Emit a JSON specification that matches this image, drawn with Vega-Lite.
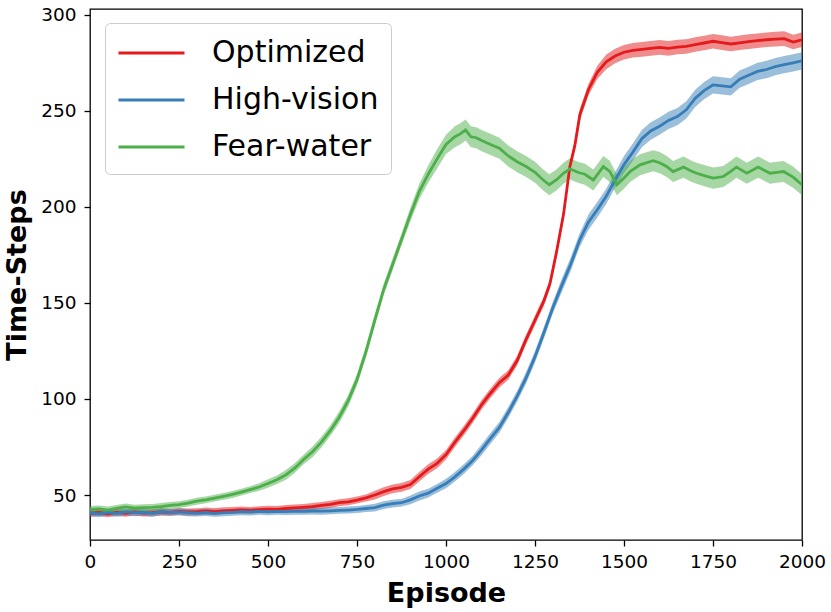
{
  "$schema": "https://vega.github.io/schema/vega-lite/v6.json",
  "width": 712,
  "height": 531,
  "autosize": "none",
  "padding": {"left": 90, "top": 9, "right": 29, "bottom": 72},
  "background": "white",
  "data": {
    "values": [
      {"s": "Optimized", "e": 0, "m": 40.5, "lo": 38.7, "hi": 42.3},
      {"s": "Optimized", "e": 25, "m": 41, "lo": 39.2, "hi": 42.8},
      {"s": "Optimized", "e": 50, "m": 40.2, "lo": 38.4, "hi": 42.0},
      {"s": "Optimized", "e": 75, "m": 41, "lo": 39.2, "hi": 42.8},
      {"s": "Optimized", "e": 100, "m": 40.5, "lo": 38.7, "hi": 42.3},
      {"s": "Optimized", "e": 125, "m": 41.2, "lo": 39.4, "hi": 43.0},
      {"s": "Optimized", "e": 150, "m": 40.6, "lo": 38.8, "hi": 42.4},
      {"s": "Optimized", "e": 175, "m": 40.8, "lo": 39.0, "hi": 42.6},
      {"s": "Optimized", "e": 200, "m": 41.2, "lo": 39.4, "hi": 43.0},
      {"s": "Optimized", "e": 225, "m": 41, "lo": 39.2, "hi": 42.8},
      {"s": "Optimized", "e": 250, "m": 41.5, "lo": 39.7, "hi": 43.3},
      {"s": "Optimized", "e": 275, "m": 41.2, "lo": 39.4, "hi": 43.0},
      {"s": "Optimized", "e": 300, "m": 41.3, "lo": 39.5, "hi": 43.1},
      {"s": "Optimized", "e": 325, "m": 41.7, "lo": 39.9, "hi": 43.5},
      {"s": "Optimized", "e": 350, "m": 41.4, "lo": 39.6, "hi": 43.2},
      {"s": "Optimized", "e": 375, "m": 41.8, "lo": 40.0, "hi": 43.6},
      {"s": "Optimized", "e": 400, "m": 42, "lo": 40.2, "hi": 43.8},
      {"s": "Optimized", "e": 425, "m": 42.3, "lo": 40.5, "hi": 44.1},
      {"s": "Optimized", "e": 450, "m": 42, "lo": 40.2, "hi": 43.8},
      {"s": "Optimized", "e": 475, "m": 42.4, "lo": 40.6, "hi": 44.2},
      {"s": "Optimized", "e": 500, "m": 42.6, "lo": 40.8, "hi": 44.4},
      {"s": "Optimized", "e": 525, "m": 42.5, "lo": 40.7, "hi": 44.3},
      {"s": "Optimized", "e": 550, "m": 43, "lo": 41.2, "hi": 44.8},
      {"s": "Optimized", "e": 575, "m": 43.3, "lo": 41.5, "hi": 45.1},
      {"s": "Optimized", "e": 600, "m": 43.6, "lo": 41.8, "hi": 45.4},
      {"s": "Optimized", "e": 625, "m": 44, "lo": 42.2, "hi": 45.8},
      {"s": "Optimized", "e": 650, "m": 44.6, "lo": 42.8, "hi": 46.4},
      {"s": "Optimized", "e": 675, "m": 45.2, "lo": 43.4, "hi": 47.0},
      {"s": "Optimized", "e": 700, "m": 46, "lo": 44.2, "hi": 47.8},
      {"s": "Optimized", "e": 725, "m": 46.5, "lo": 44.7, "hi": 48.3},
      {"s": "Optimized", "e": 750, "m": 47.4, "lo": 45.6, "hi": 49.2},
      {"s": "Optimized", "e": 775, "m": 48.5, "lo": 46.7, "hi": 50.3},
      {"s": "Optimized", "e": 800, "m": 50, "lo": 47.7, "hi": 52.3},
      {"s": "Optimized", "e": 825, "m": 51.8, "lo": 49.5, "hi": 54.1},
      {"s": "Optimized", "e": 850, "m": 53.2, "lo": 50.9, "hi": 55.5},
      {"s": "Optimized", "e": 875, "m": 54, "lo": 51.7, "hi": 56.3},
      {"s": "Optimized", "e": 900, "m": 55.5, "lo": 53.2, "hi": 57.8},
      {"s": "Optimized", "e": 925, "m": 59.5, "lo": 57, "hi": 62},
      {"s": "Optimized", "e": 950, "m": 63.5, "lo": 61, "hi": 66},
      {"s": "Optimized", "e": 975, "m": 66.5, "lo": 64, "hi": 69},
      {"s": "Optimized", "e": 1000, "m": 71, "lo": 68.5, "hi": 73.5},
      {"s": "Optimized", "e": 1025, "m": 77.5, "lo": 75, "hi": 80},
      {"s": "Optimized", "e": 1050, "m": 83.5, "lo": 81, "hi": 86},
      {"s": "Optimized", "e": 1075, "m": 90, "lo": 87.5, "hi": 92.5},
      {"s": "Optimized", "e": 1100, "m": 97, "lo": 94.5, "hi": 99.5},
      {"s": "Optimized", "e": 1125, "m": 103, "lo": 100.5, "hi": 105.5},
      {"s": "Optimized", "e": 1150, "m": 108.5, "lo": 106, "hi": 111},
      {"s": "Optimized", "e": 1175, "m": 112.5, "lo": 110, "hi": 115},
      {"s": "Optimized", "e": 1200, "m": 120, "lo": 117.5, "hi": 122.5},
      {"s": "Optimized", "e": 1225, "m": 131, "lo": 128.5, "hi": 133.5},
      {"s": "Optimized", "e": 1250, "m": 141, "lo": 138.5, "hi": 143.5},
      {"s": "Optimized", "e": 1275, "m": 151, "lo": 148.5, "hi": 153.5},
      {"s": "Optimized", "e": 1292, "m": 160, "lo": 157.5, "hi": 162.5},
      {"s": "Optimized", "e": 1311, "m": 177, "lo": 174.5, "hi": 179.5},
      {"s": "Optimized", "e": 1330, "m": 196, "lo": 193.5, "hi": 198.5},
      {"s": "Optimized", "e": 1348, "m": 221, "lo": 218.5, "hi": 223.5},
      {"s": "Optimized", "e": 1362, "m": 232, "lo": 229.5, "hi": 234.5},
      {"s": "Optimized", "e": 1376, "m": 248, "lo": 245, "hi": 251},
      {"s": "Optimized", "e": 1400, "m": 261, "lo": 258, "hi": 264},
      {"s": "Optimized", "e": 1425, "m": 270, "lo": 266.5, "hi": 273.5},
      {"s": "Optimized", "e": 1450, "m": 275.5, "lo": 271.7, "hi": 279.3},
      {"s": "Optimized", "e": 1475, "m": 278.5, "lo": 274.7, "hi": 282.3},
      {"s": "Optimized", "e": 1500, "m": 280.5, "lo": 276.7, "hi": 284.3},
      {"s": "Optimized", "e": 1525, "m": 281.5, "lo": 277.7, "hi": 285.3},
      {"s": "Optimized", "e": 1550, "m": 282, "lo": 278.2, "hi": 285.8},
      {"s": "Optimized", "e": 1575, "m": 282.5, "lo": 278.7, "hi": 286.3},
      {"s": "Optimized", "e": 1600, "m": 283, "lo": 279.2, "hi": 286.8},
      {"s": "Optimized", "e": 1625, "m": 282.5, "lo": 278.7, "hi": 286.3},
      {"s": "Optimized", "e": 1650, "m": 283.2, "lo": 279.4, "hi": 287.0},
      {"s": "Optimized", "e": 1675, "m": 283.5, "lo": 279.7, "hi": 287.3},
      {"s": "Optimized", "e": 1700, "m": 284.5, "lo": 280.7, "hi": 288.3},
      {"s": "Optimized", "e": 1725, "m": 285.3, "lo": 281.5, "hi": 289.1},
      {"s": "Optimized", "e": 1750, "m": 286.2, "lo": 282.4, "hi": 290.0},
      {"s": "Optimized", "e": 1775, "m": 285.5, "lo": 281.7, "hi": 289.3},
      {"s": "Optimized", "e": 1800, "m": 284.8, "lo": 281.0, "hi": 288.6},
      {"s": "Optimized", "e": 1825, "m": 285.4, "lo": 281.6, "hi": 289.2},
      {"s": "Optimized", "e": 1850, "m": 286, "lo": 282.2, "hi": 289.8},
      {"s": "Optimized", "e": 1875, "m": 286.5, "lo": 282.7, "hi": 290.3},
      {"s": "Optimized", "e": 1900, "m": 287, "lo": 283.2, "hi": 290.8},
      {"s": "Optimized", "e": 1925, "m": 287.3, "lo": 283.5, "hi": 291.1},
      {"s": "Optimized", "e": 1950, "m": 287.6, "lo": 283.8, "hi": 291.4},
      {"s": "Optimized", "e": 1975, "m": 285.8, "lo": 282.0, "hi": 289.6},
      {"s": "Optimized", "e": 2000, "m": 287, "lo": 283.2, "hi": 290.8},

      {"s": "High-vision", "e": 0, "m": 40.8, "lo": 39.0, "hi": 42.6},
      {"s": "High-vision", "e": 25, "m": 40.2, "lo": 38.4, "hi": 42.0},
      {"s": "High-vision", "e": 50, "m": 41, "lo": 39.2, "hi": 42.8},
      {"s": "High-vision", "e": 75, "m": 40.5, "lo": 38.7, "hi": 42.3},
      {"s": "High-vision", "e": 100, "m": 41.2, "lo": 39.4, "hi": 43.0},
      {"s": "High-vision", "e": 125, "m": 40.8, "lo": 39.0, "hi": 42.6},
      {"s": "High-vision", "e": 150, "m": 41, "lo": 39.2, "hi": 42.8},
      {"s": "High-vision", "e": 175, "m": 40.5, "lo": 38.7, "hi": 42.3},
      {"s": "High-vision", "e": 200, "m": 41.3, "lo": 39.5, "hi": 43.1},
      {"s": "High-vision", "e": 225, "m": 41, "lo": 39.2, "hi": 42.8},
      {"s": "High-vision", "e": 250, "m": 41.2, "lo": 39.4, "hi": 43.0},
      {"s": "High-vision", "e": 275, "m": 40.8, "lo": 39.0, "hi": 42.6},
      {"s": "High-vision", "e": 300, "m": 40.6, "lo": 38.8, "hi": 42.4},
      {"s": "High-vision", "e": 325, "m": 40.9, "lo": 39.1, "hi": 42.7},
      {"s": "High-vision", "e": 350, "m": 40.5, "lo": 38.7, "hi": 42.3},
      {"s": "High-vision", "e": 375, "m": 40.8, "lo": 39.0, "hi": 42.6},
      {"s": "High-vision", "e": 400, "m": 41, "lo": 39.2, "hi": 42.8},
      {"s": "High-vision", "e": 425, "m": 41.3, "lo": 39.5, "hi": 43.1},
      {"s": "High-vision", "e": 450, "m": 41.2, "lo": 39.4, "hi": 43.0},
      {"s": "High-vision", "e": 475, "m": 41.5, "lo": 39.7, "hi": 43.3},
      {"s": "High-vision", "e": 500, "m": 41.3, "lo": 39.5, "hi": 43.1},
      {"s": "High-vision", "e": 525, "m": 41.5, "lo": 39.7, "hi": 43.3},
      {"s": "High-vision", "e": 550, "m": 41.4, "lo": 39.6, "hi": 43.2},
      {"s": "High-vision", "e": 575, "m": 41.6, "lo": 39.8, "hi": 43.4},
      {"s": "High-vision", "e": 600, "m": 41.5, "lo": 39.7, "hi": 43.3},
      {"s": "High-vision", "e": 625, "m": 41.7, "lo": 39.9, "hi": 43.5},
      {"s": "High-vision", "e": 650, "m": 41.6, "lo": 39.8, "hi": 43.4},
      {"s": "High-vision", "e": 675, "m": 41.8, "lo": 40.0, "hi": 43.6},
      {"s": "High-vision", "e": 700, "m": 42, "lo": 40.2, "hi": 43.8},
      {"s": "High-vision", "e": 725, "m": 42.2, "lo": 40.4, "hi": 44.0},
      {"s": "High-vision", "e": 750, "m": 42.5, "lo": 40.7, "hi": 44.3},
      {"s": "High-vision", "e": 775, "m": 43, "lo": 41.2, "hi": 44.8},
      {"s": "High-vision", "e": 800, "m": 43.5, "lo": 41.5, "hi": 45.5},
      {"s": "High-vision", "e": 825, "m": 44.8, "lo": 42.8, "hi": 46.8},
      {"s": "High-vision", "e": 850, "m": 45.5, "lo": 43.5, "hi": 47.5},
      {"s": "High-vision", "e": 875, "m": 46, "lo": 44, "hi": 48},
      {"s": "High-vision", "e": 900, "m": 47.5, "lo": 45.2, "hi": 49.8},
      {"s": "High-vision", "e": 925, "m": 49.5, "lo": 47.2, "hi": 51.8},
      {"s": "High-vision", "e": 950, "m": 51, "lo": 48.7, "hi": 53.3},
      {"s": "High-vision", "e": 975, "m": 53.5, "lo": 51.2, "hi": 55.8},
      {"s": "High-vision", "e": 1000, "m": 56, "lo": 53.5, "hi": 58.5},
      {"s": "High-vision", "e": 1025, "m": 59.5, "lo": 57, "hi": 62},
      {"s": "High-vision", "e": 1050, "m": 63.5, "lo": 61, "hi": 66},
      {"s": "High-vision", "e": 1075, "m": 68, "lo": 65.5, "hi": 70.5},
      {"s": "High-vision", "e": 1100, "m": 73.5, "lo": 70.7, "hi": 76.3},
      {"s": "High-vision", "e": 1125, "m": 79.5, "lo": 76.7, "hi": 82.3},
      {"s": "High-vision", "e": 1150, "m": 85.2, "lo": 82.4, "hi": 88.0},
      {"s": "High-vision", "e": 1175, "m": 93, "lo": 90.2, "hi": 95.8},
      {"s": "High-vision", "e": 1200, "m": 101.5, "lo": 98.7, "hi": 104.3},
      {"s": "High-vision", "e": 1225, "m": 111, "lo": 108, "hi": 114},
      {"s": "High-vision", "e": 1250, "m": 122, "lo": 119, "hi": 125},
      {"s": "High-vision", "e": 1275, "m": 134.5, "lo": 131.5, "hi": 137.5},
      {"s": "High-vision", "e": 1300, "m": 147.5, "lo": 144.5, "hi": 150.5},
      {"s": "High-vision", "e": 1325, "m": 159, "lo": 155.5, "hi": 162.5},
      {"s": "High-vision", "e": 1350, "m": 170, "lo": 166.5, "hi": 173.5},
      {"s": "High-vision", "e": 1375, "m": 182.5, "lo": 179, "hi": 186},
      {"s": "High-vision", "e": 1400, "m": 192, "lo": 188, "hi": 196},
      {"s": "High-vision", "e": 1425, "m": 198.5, "lo": 194.5, "hi": 202.5},
      {"s": "High-vision", "e": 1450, "m": 205.5, "lo": 201.5, "hi": 209.5},
      {"s": "High-vision", "e": 1475, "m": 214, "lo": 210, "hi": 218},
      {"s": "High-vision", "e": 1500, "m": 222, "lo": 217.5, "hi": 226.5},
      {"s": "High-vision", "e": 1525, "m": 228.5, "lo": 224, "hi": 233},
      {"s": "High-vision", "e": 1550, "m": 235.5, "lo": 231, "hi": 240},
      {"s": "High-vision", "e": 1575, "m": 239.5, "lo": 235, "hi": 244},
      {"s": "High-vision", "e": 1600, "m": 242, "lo": 237.5, "hi": 246.5},
      {"s": "High-vision", "e": 1625, "m": 245, "lo": 240.5, "hi": 249.5},
      {"s": "High-vision", "e": 1650, "m": 247, "lo": 242.5, "hi": 251.5},
      {"s": "High-vision", "e": 1675, "m": 250.5, "lo": 246, "hi": 255},
      {"s": "High-vision", "e": 1700, "m": 256.5, "lo": 252, "hi": 261},
      {"s": "High-vision", "e": 1725, "m": 260.5, "lo": 256, "hi": 265},
      {"s": "High-vision", "e": 1750, "m": 263.5, "lo": 259, "hi": 268},
      {"s": "High-vision", "e": 1775, "m": 263, "lo": 258.5, "hi": 267.5},
      {"s": "High-vision", "e": 1800, "m": 262.5, "lo": 258, "hi": 267},
      {"s": "High-vision", "e": 1825, "m": 266.5, "lo": 262, "hi": 271},
      {"s": "High-vision", "e": 1850, "m": 268.5, "lo": 264, "hi": 273},
      {"s": "High-vision", "e": 1875, "m": 270.5, "lo": 266, "hi": 275},
      {"s": "High-vision", "e": 1900, "m": 271.5, "lo": 267, "hi": 276},
      {"s": "High-vision", "e": 1925, "m": 273, "lo": 268.5, "hi": 277.5},
      {"s": "High-vision", "e": 1950, "m": 274, "lo": 269.5, "hi": 278.5},
      {"s": "High-vision", "e": 1975, "m": 275, "lo": 270.5, "hi": 279.5},
      {"s": "High-vision", "e": 2000, "m": 276, "lo": 271.5, "hi": 280.5},

      {"s": "Fear-water", "e": 0, "m": 42.5, "lo": 40.7, "hi": 44.3},
      {"s": "Fear-water", "e": 25, "m": 42.8, "lo": 41.0, "hi": 44.6},
      {"s": "Fear-water", "e": 50, "m": 42.2, "lo": 40.4, "hi": 44.0},
      {"s": "Fear-water", "e": 75, "m": 43, "lo": 41.2, "hi": 44.8},
      {"s": "Fear-water", "e": 100, "m": 43.8, "lo": 42.0, "hi": 45.6},
      {"s": "Fear-water", "e": 125, "m": 43.2, "lo": 41.4, "hi": 45.0},
      {"s": "Fear-water", "e": 150, "m": 43.4, "lo": 41.6, "hi": 45.2},
      {"s": "Fear-water", "e": 175, "m": 43.6, "lo": 41.8, "hi": 45.4},
      {"s": "Fear-water", "e": 200, "m": 44, "lo": 42.2, "hi": 45.8},
      {"s": "Fear-water", "e": 225, "m": 44.6, "lo": 42.8, "hi": 46.4},
      {"s": "Fear-water", "e": 250, "m": 45, "lo": 43.2, "hi": 46.8},
      {"s": "Fear-water", "e": 275, "m": 45.8, "lo": 44.0, "hi": 47.6},
      {"s": "Fear-water", "e": 300, "m": 46.8, "lo": 45.0, "hi": 48.6},
      {"s": "Fear-water", "e": 325, "m": 47.5, "lo": 45.7, "hi": 49.3},
      {"s": "Fear-water", "e": 350, "m": 48.4, "lo": 46.6, "hi": 50.2},
      {"s": "Fear-water", "e": 375, "m": 49.3, "lo": 47.5, "hi": 51.1},
      {"s": "Fear-water", "e": 400, "m": 50.3, "lo": 48.5, "hi": 52.1},
      {"s": "Fear-water", "e": 425, "m": 51.5, "lo": 49.7, "hi": 53.3},
      {"s": "Fear-water", "e": 450, "m": 52.8, "lo": 51.0, "hi": 54.6},
      {"s": "Fear-water", "e": 475, "m": 54.2, "lo": 52.2, "hi": 56.2},
      {"s": "Fear-water", "e": 500, "m": 56, "lo": 53.8, "hi": 58.2},
      {"s": "Fear-water", "e": 525, "m": 58, "lo": 55.8, "hi": 60.2},
      {"s": "Fear-water", "e": 550, "m": 60.5, "lo": 58, "hi": 63},
      {"s": "Fear-water", "e": 575, "m": 64, "lo": 61.5, "hi": 66.5},
      {"s": "Fear-water", "e": 600, "m": 68.5, "lo": 66, "hi": 71},
      {"s": "Fear-water", "e": 625, "m": 72.5, "lo": 69.7, "hi": 75.3},
      {"s": "Fear-water", "e": 650, "m": 77.5, "lo": 74.7, "hi": 80.3},
      {"s": "Fear-water", "e": 675, "m": 83.5, "lo": 80.7, "hi": 86.3},
      {"s": "Fear-water", "e": 700, "m": 90.5, "lo": 87.5, "hi": 93.5},
      {"s": "Fear-water", "e": 725, "m": 99, "lo": 96, "hi": 102},
      {"s": "Fear-water", "e": 750, "m": 110, "lo": 107, "hi": 113},
      {"s": "Fear-water", "e": 775, "m": 124.5, "lo": 121.5, "hi": 127.5},
      {"s": "Fear-water", "e": 800, "m": 141, "lo": 138, "hi": 144},
      {"s": "Fear-water", "e": 825, "m": 157, "lo": 154, "hi": 160},
      {"s": "Fear-water", "e": 850, "m": 170, "lo": 167, "hi": 173},
      {"s": "Fear-water", "e": 875, "m": 183, "lo": 180, "hi": 186},
      {"s": "Fear-water", "e": 900, "m": 196, "lo": 192.5, "hi": 199.5},
      {"s": "Fear-water", "e": 925, "m": 208, "lo": 204, "hi": 212},
      {"s": "Fear-water", "e": 950, "m": 217, "lo": 212.5, "hi": 221.5},
      {"s": "Fear-water", "e": 975, "m": 225, "lo": 220, "hi": 230},
      {"s": "Fear-water", "e": 1000, "m": 232.5, "lo": 227.5, "hi": 237.5},
      {"s": "Fear-water", "e": 1025, "m": 236.5, "lo": 231, "hi": 242},
      {"s": "Fear-water", "e": 1040, "m": 238, "lo": 232.5, "hi": 243.5},
      {"s": "Fear-water", "e": 1055, "m": 240, "lo": 234.5, "hi": 245.5},
      {"s": "Fear-water", "e": 1070, "m": 236.5, "lo": 231, "hi": 242},
      {"s": "Fear-water", "e": 1085, "m": 236, "lo": 230.5, "hi": 241.5},
      {"s": "Fear-water", "e": 1100, "m": 234.5, "lo": 229, "hi": 240},
      {"s": "Fear-water", "e": 1125, "m": 232.5, "lo": 227, "hi": 238},
      {"s": "Fear-water", "e": 1150, "m": 230.5, "lo": 225, "hi": 236},
      {"s": "Fear-water", "e": 1175, "m": 226.5, "lo": 221, "hi": 232},
      {"s": "Fear-water", "e": 1200, "m": 223.5, "lo": 218, "hi": 229},
      {"s": "Fear-water", "e": 1225, "m": 221, "lo": 215.5, "hi": 226.5},
      {"s": "Fear-water", "e": 1250, "m": 218, "lo": 212.5, "hi": 223.5},
      {"s": "Fear-water", "e": 1270, "m": 214.5, "lo": 209, "hi": 220},
      {"s": "Fear-water", "e": 1290, "m": 211.5, "lo": 206, "hi": 217},
      {"s": "Fear-water", "e": 1310, "m": 214, "lo": 208.5, "hi": 219.5},
      {"s": "Fear-water", "e": 1330, "m": 217.5, "lo": 212, "hi": 223},
      {"s": "Fear-water", "e": 1348, "m": 219.8, "lo": 214.3, "hi": 225.3},
      {"s": "Fear-water", "e": 1370, "m": 218, "lo": 212.5, "hi": 223.5},
      {"s": "Fear-water", "e": 1390, "m": 217, "lo": 211.5, "hi": 222.5},
      {"s": "Fear-water", "e": 1414, "m": 214, "lo": 208.5, "hi": 219.5},
      {"s": "Fear-water", "e": 1442, "m": 221, "lo": 215.5, "hi": 226.5},
      {"s": "Fear-water", "e": 1460, "m": 218.5, "lo": 213, "hi": 224},
      {"s": "Fear-water", "e": 1480, "m": 211.5, "lo": 206, "hi": 217},
      {"s": "Fear-water", "e": 1500, "m": 215, "lo": 209.5, "hi": 220.5},
      {"s": "Fear-water", "e": 1517, "m": 218.4, "lo": 212.9, "hi": 223.9},
      {"s": "Fear-water", "e": 1545, "m": 221.9, "lo": 216.4, "hi": 227.4},
      {"s": "Fear-water", "e": 1582, "m": 224, "lo": 218.5, "hi": 229.5},
      {"s": "Fear-water", "e": 1600, "m": 223, "lo": 217.5, "hi": 228.5},
      {"s": "Fear-water", "e": 1620, "m": 221, "lo": 215.5, "hi": 226.5},
      {"s": "Fear-water", "e": 1638, "m": 218.4, "lo": 212.9, "hi": 223.9},
      {"s": "Fear-water", "e": 1667, "m": 220.7, "lo": 215.2, "hi": 226.2},
      {"s": "Fear-water", "e": 1690, "m": 218.5, "lo": 213, "hi": 224},
      {"s": "Fear-water", "e": 1704, "m": 217.5, "lo": 212, "hi": 223},
      {"s": "Fear-water", "e": 1730, "m": 216, "lo": 210.5, "hi": 221.5},
      {"s": "Fear-water", "e": 1751, "m": 215, "lo": 209.5, "hi": 220.5},
      {"s": "Fear-water", "e": 1779, "m": 215.8, "lo": 210.3, "hi": 221.3},
      {"s": "Fear-water", "e": 1800, "m": 218.5, "lo": 213, "hi": 224},
      {"s": "Fear-water", "e": 1816, "m": 220.7, "lo": 215.2, "hi": 226.2},
      {"s": "Fear-water", "e": 1845, "m": 217.5, "lo": 212, "hi": 223},
      {"s": "Fear-water", "e": 1877, "m": 220.7, "lo": 215.2, "hi": 226.2},
      {"s": "Fear-water", "e": 1910, "m": 217.5, "lo": 212, "hi": 223},
      {"s": "Fear-water", "e": 1930, "m": 218, "lo": 212.5, "hi": 223.5},
      {"s": "Fear-water", "e": 1948, "m": 218.4, "lo": 212.9, "hi": 223.9},
      {"s": "Fear-water", "e": 1975, "m": 215.5, "lo": 210, "hi": 221},
      {"s": "Fear-water", "e": 2000, "m": 211.5, "lo": 206, "hi": 217}
    ]
  },
  "encoding": {
    "x": {
      "field": "e",
      "type": "quantitative",
      "title": "Episode",
      "scale": {"domain": [0, 2000], "nice": false},
      "axis": {
        "values": [0, 250, 500, 750, 1000, 1250, 1500, 1750, 2000],
        "format": "d",
        "labelFlush": false,
        "labelPadding": 6,
        "titlePadding": 10
      }
    },
    "color": {
      "field": "s",
      "type": "nominal",
      "scale": {
        "domain": ["Optimized", "High-vision", "Fear-water"],
        "range": ["#e41a1c", "#377eb8", "#4daf4a"]
      },
      "legend": {"title": null}
    }
  },
  "layer": [
    {
      "mark": {"type": "area", "opacity": 0.5, "clip": true},
      "encoding": {
        "y": {
          "field": "lo",
          "type": "quantitative",
          "title": "Time-Steps",
          "scale": {"domain": [26.6, 303], "nice": false, "zero": false},
          "axis": {"values": [50, 100, 150, 200, 250, 300], "labelPadding": 8, "titlePadding": 9}
        },
        "y2": {"field": "hi"}
      }
    },
    {
      "mark": {"type": "line", "strokeWidth": 2.8, "clip": true},
      "encoding": {
        "y": {"field": "m", "type": "quantitative"}
      }
    }
  ],
  "config": {
    "font": "DejaVu Sans",
    "view": {"stroke": "black", "strokeWidth": 1.3},
    "axis": {
      "grid": false,
      "domain": false,
      "ticks": true,
      "tickColor": "black",
      "tickWidth": 1.3,
      "tickSize": 6,
      "labelFont": "DejaVu Sans",
      "labelFontSize": 18.5,
      "labelColor": "black",
      "titleFont": "DejaVu Sans",
      "titleFontSize": 27,
      "titleFontWeight": "bold",
      "titleColor": "black"
    },
    "legend": {
      "orient": "none",
      "legendX": 15,
      "legendY": 14,
      "symbolType": "M-1,0H3",
      "symbolSize": 1089,
      "symbolStrokeWidth": 3,
      "symbolOpacity": 1,
      "labelFont": "DejaVu Sans",
      "labelFontSize": 30,
      "labelColor": "black",
      "labelLimit": 400,
      "labelOffset": 59,
      "rowPadding": 14,
      "padding": 12,
      "strokeColor": "#cccccc",
      "fillColor": "white",
      "cornerRadius": 5
    }
  }
}
